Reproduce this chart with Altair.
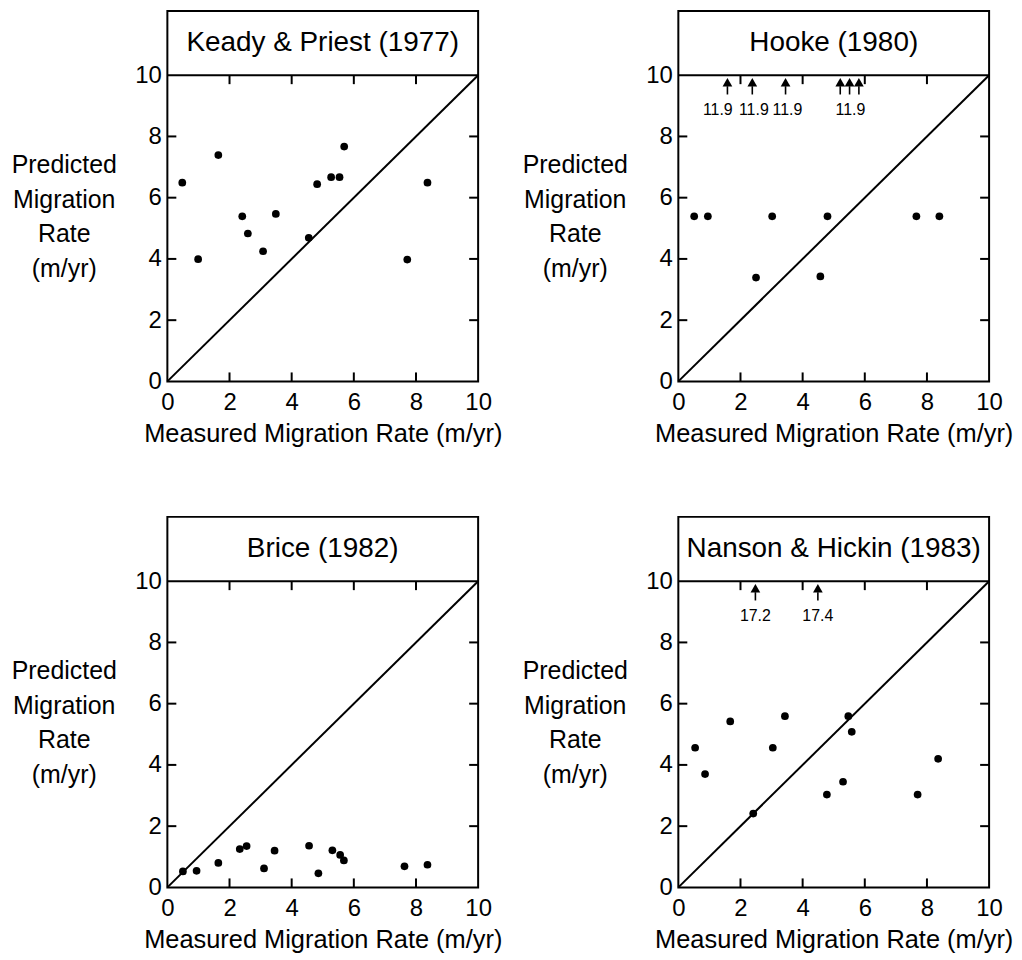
import altair as alt
import pandas as pd

# ---------------- data ----------------
panel_titles = ["Keady & Priest (1977)", "Hooke (1980)", "Brice (1982)", "Nanson & Hickin (1983)"]

keady_measured = [0.48, 0.99, 1.64, 2.41, 2.59, 3.08, 3.49, 4.55, 4.82, 5.27, 5.54, 5.69, 7.72, 8.37]
keady_predicted = [6.49, 3.99, 7.39, 5.39, 4.83, 4.25, 5.47, 4.69, 6.44, 6.67, 6.67, 7.67, 3.98, 6.49]

hooke_measured = [0.51, 0.95, 2.50, 3.02, 4.57, 4.80, 7.66, 8.40]
hooke_predicted = [5.39, 5.39, 3.39, 5.39, 3.43, 5.39, 5.39, 5.39]
hooke_offscale_measured = [1.58, 2.38, 3.45, 5.21, 5.51, 5.81]
hooke_label_measured = [1.27, 2.43, 3.51, 5.54]
hooke_label_text = ["11.9", "11.9", "11.9", "11.9"]

brice_measured = [0.50, 0.94, 1.64, 2.33, 2.55, 3.11, 3.45, 4.56, 4.86, 5.31, 5.56, 5.68, 7.63, 8.37]
brice_predicted = [0.52, 0.54, 0.80, 1.25, 1.35, 0.62, 1.20, 1.36, 0.46, 1.21, 1.06, 0.88, 0.69, 0.74]

nanson_measured = [0.54, 0.86, 1.67, 2.41, 3.04, 3.43, 4.78, 5.30, 5.47, 5.58, 7.70, 8.36]
nanson_predicted = [4.56, 3.70, 5.42, 2.41, 4.56, 5.59, 3.03, 3.45, 5.59, 5.08, 3.03, 4.20]
nanson_offscale_measured = [2.48, 4.49]
nanson_label_measured = [2.48, 4.49]
nanson_label_text = ["17.2", "17.4"]

axis_ticks = [0, 2, 4, 6, 8, 10]
inner_ticks = [2, 4, 6, 8]
axis_max = 10

# ---------------- style / layout ----------------
W, H = 312, 372
Y_TOP = 12.1
FONT = "Liberation Sans"
TITLE_Y = 11.05
ARROW_BASE, ARROW_NECK, ARROW_HEAD, ARROW_LABEL = 9.37, 9.64, 9.77, 8.85

xs = alt.Scale(domain=[0, axis_max], nice=False, zero=False)
ys = alt.Scale(domain=[0, Y_TOP], nice=False, zero=False)

x_axis = alt.Axis(values=axis_ticks, title="Measured Migration Rate (m/yr)", grid=False,
                  domain=False, ticks=False, labelPadding=9, titlePadding=7,
                  labelFontSize=24, titleFontSize=25.5, labelFont=FONT, titleFont=FONT,
                  labelColor="black", titleColor="black", titleFontWeight="normal",
                  labelFlush=False)
y_axis = alt.Axis(values=axis_ticks, title=["Predicted", "Migration", "Rate", "(m/yr)"],
                  grid=False, domain=False, ticks=False, labelPadding=6,
                  labelFontSize=24, titleFontSize=25, labelFont=FONT, titleFont=FONT,
                  labelColor="black", titleColor="black", titleFontWeight="normal",
                  titleAngle=0, titleAlign="center", titleBaseline="middle",
                  titleX=-104, titleY=154, titleLineHeight=35, labelFlush=False)


def X():
    return alt.X("measured:Q", scale=xs, axis=x_axis)


def Y():
    return alt.Y("predicted:Q", scale=ys, axis=y_axis)


def panel(title, mx, py, off_x=None, lab_x=None, lab_t=None):
    layers = []
    pts = pd.DataFrame({"measured": mx, "predicted": py})
    layers.append(alt.Chart(pts).mark_circle(size=60, color="black", opacity=1).encode(x=X(), y=Y()))

    diag = pd.DataFrame({"measured": [0, axis_max], "predicted": [0, axis_max]})
    layers.append(alt.Chart(diag).mark_line(color="black", strokeWidth=2).encode(x=X(), y=Y()))
    top = pd.DataFrame({"measured": [0, axis_max], "predicted": [axis_max, axis_max]})
    layers.append(alt.Chart(top).mark_line(color="black", strokeWidth=2).encode(x=X(), y=Y()))

    tk_top = pd.DataFrame({"measured": inner_ticks, "predicted": [axis_max] * 4})
    tk_bot = pd.DataFrame({"measured": inner_ticks, "predicted": [0] * 4})
    tk_left = pd.DataFrame({"measured": [0] * 4, "predicted": inner_ticks})
    tk_right = pd.DataFrame({"measured": [axis_max] * 4, "predicted": inner_ticks})
    layers.append(alt.Chart(tk_top).mark_tick(orient="vertical", size=9, thickness=2, color="black",
                                              opacity=1, yOffset=4.5).encode(x=X(), y=Y()))
    layers.append(alt.Chart(tk_bot).mark_tick(orient="vertical", size=9, thickness=2, color="black",
                                              opacity=1, yOffset=-4.5).encode(x=X(), y=Y()))
    layers.append(alt.Chart(tk_left).mark_tick(orient="horizontal", size=9, thickness=2, color="black",
                                               opacity=1, xOffset=4.5).encode(x=X(), y=Y()))
    layers.append(alt.Chart(tk_right).mark_tick(orient="horizontal", size=9, thickness=2, color="black",
                                                opacity=1, xOffset=-4.5).encode(x=X(), y=Y()))

    ttl = pd.DataFrame({"measured": [axis_max / 2], "predicted": [TITLE_Y], "label": [title]})
    layers.append(alt.Chart(ttl).mark_text(font=FONT, fontSize=28, color="black", baseline="middle",
                                           align="center").encode(x=X(), y=Y(), text="label:N"))

    if off_x:
        arr = pd.DataFrame({"measured": off_x, "predicted": [ARROW_BASE] * len(off_x),
                            "neck": [ARROW_NECK] * len(off_x)})
        layers.append(alt.Chart(arr).mark_rule(color="black", strokeWidth=1.6).encode(
            x=X(), y=Y(), y2="neck:Q"))
        head = pd.DataFrame({"measured": off_x, "predicted": [ARROW_HEAD] * len(off_x)})
        layers.append(alt.Chart(head).mark_point(shape="triangle-up", filled=True, size=95,
                                                 color="black", opacity=1).encode(x=X(), y=Y()))
        lab = pd.DataFrame({"measured": lab_x, "predicted": [ARROW_LABEL] * len(lab_x), "label": lab_t})
        layers.append(alt.Chart(lab).mark_text(font=FONT, fontSize=16, color="black", baseline="middle",
                                               align="center").encode(x=X(), y=Y(), text="label:N"))

    return alt.layer(*layers).properties(width=W, height=H)


p1 = panel(panel_titles[0], keady_measured, keady_predicted)
p2 = panel(panel_titles[1], hooke_measured, hooke_predicted, hooke_offscale_measured,
           hooke_label_measured, hooke_label_text)
p3 = panel(panel_titles[2], brice_measured, brice_predicted)
p4 = panel(panel_titles[3], nanson_measured, nanson_predicted, nanson_offscale_measured,
           nanson_label_measured, nanson_label_text)

chart = (
    alt.concat(p1, p2, p3, p4, columns=2, spacing={"row": 136, "column": 201}, bounds="flush")
    .properties(padding={"left": 2, "top": 0, "right": 0, "bottom": 5}, background="white")
    .configure_view(stroke="black", strokeWidth=2)
)

chart.save("out.html", embed_options={"renderer": "svg", "actions": False})
